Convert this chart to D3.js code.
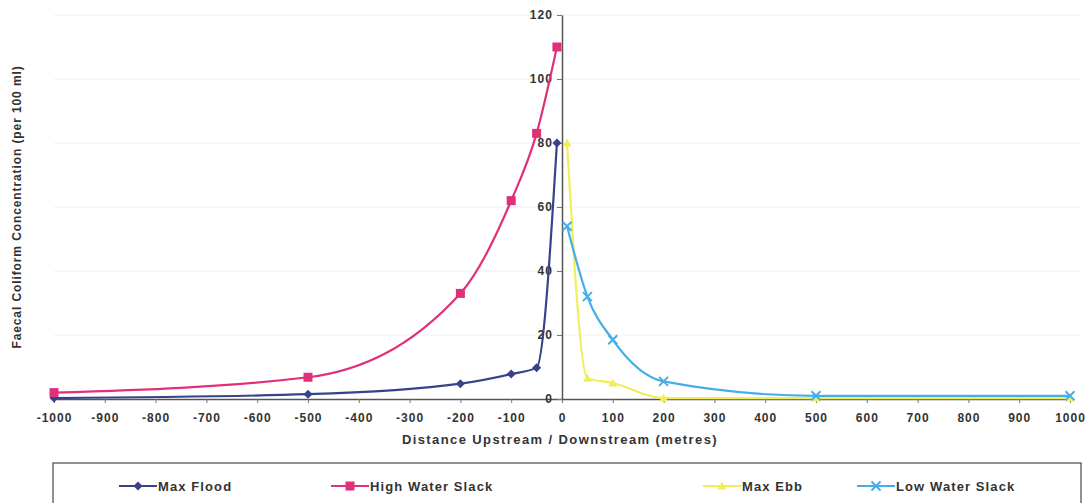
<!DOCTYPE html>
<html><head><meta charset="utf-8">
<script src="https://cdn.jsdelivr.net/npm/d3@7"></script>
<style>
body{margin:0;background:#fff;}
text{font-family:"Liberation Sans",Arial,sans-serif;}
</style></head>
<body><svg id="c" width="1091" height="503"></svg>
<script>
const xTicks = [-1000,-900,-800,-700,-600,-500,-400,-300,-200,-100,0,100,200,300,400,500,600,700,800,900,1000];
const yTicks = [0,20,40,60,80,100,120];

const floodX = [-1000,-500,-200,-100,-50,-10];
const floodY = [0.3,1.5,4.8,7.8,9.8,80];
const hwsX = [-1000,-500,-200,-100,-50,-10];
const hwsY = [2,6.8,33,62,83,110];
const ebbX = [10,50,100,200,500,1000];
const ebbY = [80,6.5,5,0.3,0.3,0.3];
const lwsX = [10,50,100,200,500,1000];
const lwsY = [54,32,18.5,5.5,1,1];

const seriesNames = ["Max Flood","High Water Slack","Max Ebb","Low Water Slack"];
const colors = ["#36428a","#e0307a","#f2ee5a","#45aee6"];
const markers = ["diamond","square","triangle","x"];

const svg = d3.select("#c");
const x = d3.scaleLinear().domain([-1000,1000]).range([54,1070]);
const y = d3.scaleLinear().domain([0,120]).range([399,15]);

// faint grid
svg.append("g").selectAll("line").data(yTicks.slice(1)).join("line")
  .attr("x1",54).attr("x2",1080).attr("y1",d=>y(d)).attr("y2",d=>y(d))
  .attr("stroke","#f1f1f1").attr("stroke-width",1);

// x axis
const xa = svg.append("g").attr("transform",`translate(0,${y(0)})`)
  .call(d3.axisBottom(x).tickValues(xTicks).tickSize(4).tickSizeOuter(0).tickFormat(d=>d));
xa.select(".domain").attr("stroke","#555").attr("stroke-width",1.5);
xa.selectAll(".tick line").attr("stroke","#777");
xa.selectAll("text").attr("fill","#333").attr("font-size",12).attr("font-weight","bold")
  .attr("letter-spacing","1px").attr("dy","1.3em");

// y axis
const ya = svg.append("g").attr("transform",`translate(${x(0)},0)`)
  .call(d3.axisLeft(y).tickValues(yTicks).tickSize(5).tickSizeOuter(0));
ya.select(".domain").attr("stroke","#555").attr("stroke-width",1.5);
ya.selectAll(".tick line").attr("stroke","#777");
ya.selectAll("text").attr("fill","#333").attr("font-size",12).attr("font-weight","bold")
  .attr("letter-spacing","1px").attr("dx","-0.1em");

const data = [
  floodX.map((v,i)=>[v,floodY[i]]),
  hwsX.map((v,i)=>[v,hwsY[i]]),
  ebbX.map((v,i)=>[v,ebbY[i]]),
  lwsX.map((v,i)=>[v,lwsY[i]])
];
const line = d3.line().x(d=>x(d[0])).y(d=>y(d[1])).curve(d3.curveMonotoneX);

function marker(g, type, cx, cy, col){
  if(type==="diamond"){
    g.append("path").attr("d",`M${cx},${cy-4.5}L${cx+4.5},${cy}L${cx},${cy+4.5}L${cx-4.5},${cy}Z`).attr("fill",col);
  } else if(type==="square"){
    g.append("rect").attr("x",cx-4.5).attr("y",cy-4.5).attr("width",9).attr("height",9).attr("fill",col);
  } else if(type==="triangle"){
    g.append("path").attr("d",`M${cx},${cy-4.5}L${cx+4.5},${cy+3.5}L${cx-4.5},${cy+3.5}Z`).attr("fill",col);
  } else {
    g.append("path").attr("d",`M${cx-4.5},${cy-4.5}L${cx+4.5},${cy+4.5}M${cx+4.5},${cy-4.5}L${cx-4.5},${cy+4.5}`).attr("stroke",col).attr("stroke-width",2);
  }
}

// draw order: ebb, lws, flood, hws
[2,3,0,1].forEach(i=>{
  const g = svg.append("g");
  g.append("path").datum(data[i]).attr("d",line).attr("fill","none")
    .attr("stroke",colors[i]).attr("stroke-width",2.2);
  data[i].forEach(d=>marker(g,markers[i],x(d[0]),y(d[1]),colors[i]));
});

// titles
svg.append("text").attr("x",560).attr("y",444).attr("text-anchor","middle")
  .attr("font-size",13).attr("font-weight","bold").attr("fill","#333").attr("letter-spacing","1.4px")
  .text("Distance Upstream / Downstream (metres)");
svg.append("text").attr("transform","translate(21,207) rotate(-90)").attr("text-anchor","middle")
  .attr("font-size",12).attr("font-weight","bold").attr("fill","#333").attr("letter-spacing","0.9px")
  .text("Faecal Coliform Concentration (per 100 ml)");

// legend
svg.append("rect").attr("x",53).attr("y",463).attr("width",1028).attr("height",60)
  .attr("fill","#fff").attr("stroke","#555").attr("stroke-width",1.3);
const legX = [119,331,703,857];
seriesNames.forEach((n,i)=>{
  const g = svg.append("g");
  const lx = legX[i], ly = 486;
  g.append("line").attr("x1",lx).attr("x2",lx+38).attr("y1",ly).attr("y2",ly).attr("stroke",colors[i]).attr("stroke-width",2.2);
  marker(g,markers[i],lx+19,ly,colors[i]);
  g.append("text").attr("x",lx+39).attr("y",ly+4.5).attr("font-size",13).attr("font-weight","bold").attr("fill","#333")
    .attr("letter-spacing","1.1px").text(n);
});
</script></body></html>
